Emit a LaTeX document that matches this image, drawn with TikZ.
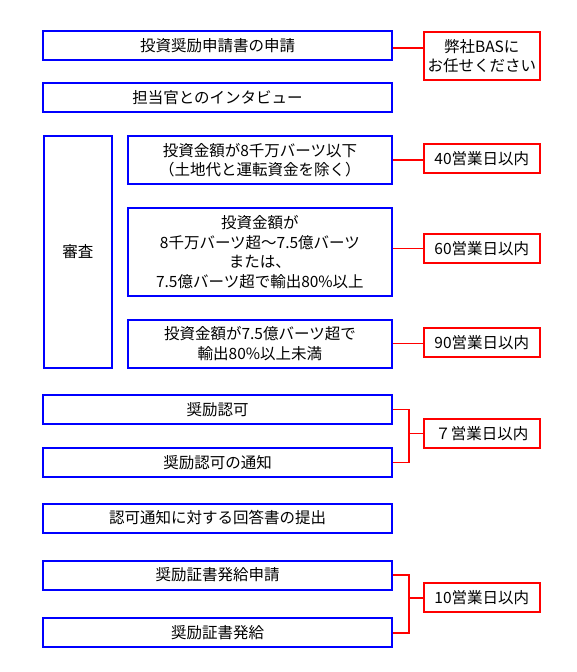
\documentclass[tikz,border=0pt]{standalone}
\usepackage{fontspec}
\setmainfont{Noto Sans CJK JP}
\usepackage{tikz}
\usetikzlibrary{positioning}
\definecolor{FlowBlue}{HTML}{0000FF}
\definecolor{TermRed}{HTML}{FF0000}

\begin{document}
\begin{tikzpicture}[x=1pt, y=-1pt,
  stagebox/.style={rectangle, draw=FlowBlue, line width=2pt, inner sep=0pt,
    minimum width=349pt, minimum height=29pt, align=center,
    font=\fontsize{15.5}{19.5}\selectfont},
  condbox/.style={stagebox, minimum width=264pt},
  termbox/.style={rectangle, draw=TermRed, line width=2pt, inner sep=0pt,
    minimum width=116pt, minimum height=29pt, align=center,
    font=\fontsize{15.5}{19.5}\selectfont},
  link/.style={draw=TermRed, line width=1.5pt}
]
\useasboundingbox (0,0) rectangle (576,672);

\node[stagebox] (req) at (217.5,45.5) {投資奨励申請書の申請};
\node[stagebox] (interview) at (217.5,97.2) {担当官とのインタビュー};
\node[stagebox, minimum width=68pt, minimum height=232pt] (review) at (77.8,252) {審査};
\node[condbox, minimum height=48pt] (condA) at (259.9,160) {投資金額が8千万バーツ以下\\（土地代と運転資金を除く）};
\node[condbox, minimum height=88pt] (condB) at (259.9,252) {投資金額が\\8千万バーツ超～7.5億バーツ\\または、\\7.5億バーツ超で輸出80\%以上};
\node[condbox, minimum height=48pt] (condC) at (259.9,343.5) {投資金額が7.5億バーツ超で\\輸出80\%以上未満};
\node[stagebox] (approve) at (217.5,409.5) {奨励認可};
\node[stagebox] (notify) at (217.5,462.3) {奨励認可の通知};
\node[stagebox] (reply) at (217.5,518) {認可通知に対する回答書の提出};
\node[stagebox] (certreq) at (217.5,575) {奨励証書発給申請};
\node[stagebox] (certissue) at (217.5,632.8) {奨励証書発給};

\node[termbox, minimum height=48pt] (bas) at (481.8,56) {弊社BASに\\お任せください};
\node[termbox] (d40) at (481.8,158.7) {40営業日以内};
\node[termbox] (d60) at (481.8,248.7) {60営業日以内};
\node[termbox] (d90) at (481.8,342.2) {90営業日以内};
\node[termbox] (d7) at (481.8,433.3) {７営業日以内};
\node[termbox] (d10) at (481.8,597.8) {10営業日以内};

\draw[link] ([yshift=-2.5pt]req.east) coordinate (r1) -- (bas.west |- r1);
\draw[link] (condA.east) -- (d40.west |- condA.east);
\draw[link] (d60.west) -- (condB.east |- d60.west);
\draw[link] (condC.east) -- (d90.west |- condC.east);

\draw[link] (approve.east) -- ++(16,0) coordinate (b1) |- (notify.east);
\draw[link] (b1 |- d7.west) -- (d7.west);
\draw[link] (certreq.east) -- ++(16,0) coordinate (b2) |- (certissue.east);
\draw[link] (b2 |- d10.west) -- (d10.west);
\end{tikzpicture}
\end{document}
